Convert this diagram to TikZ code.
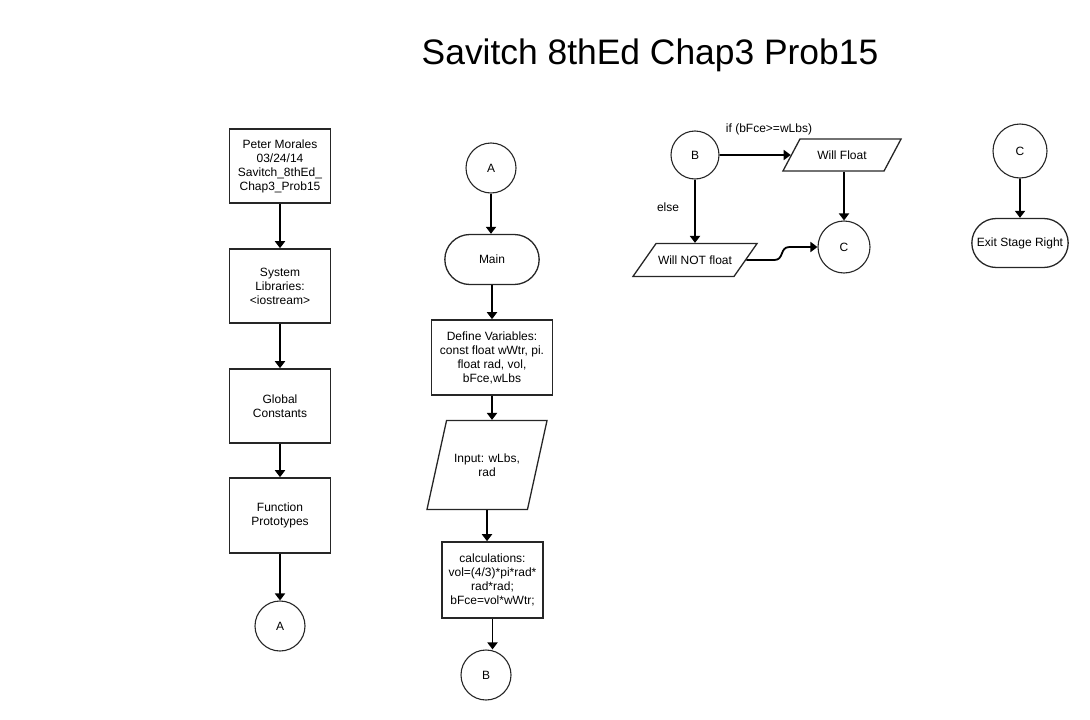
\documentclass[tikz,border=0pt]{standalone}
\usepackage{fontspec}
\setmainfont{Liberation Sans}
\usepackage{tikz}
\usetikzlibrary{shapes.geometric, shapes.misc, arrows.meta, calc}

\begin{document}
\begin{tikzpicture}[
    x=1pt, y=-1pt,
    every node/.style={font=\fontsize{12}{14}\selectfont, align=center},
    proc/.style={draw=black!85, rectangle, line width=1.6pt, minimum width=101pt, minimum height=74pt},
    term/.style={draw=black!85, rounded rectangle, line width=1.3pt, minimum width=101pt, minimum height=50pt},
    conn/.style={draw=black!85, circle, line width=1.1pt, minimum size=50pt, inner sep=0pt},
    io/.style={draw=black!85, trapezium, trapezium stretches body=true, line width=1.3pt, inner xsep=1pt},
    >={Triangle[width=10pt,length=7pt]},
    flow/.style={->, line width=1.8pt}
  ]
  \useasboundingbox (0,0) rectangle (1090,720);

  % Title
  \node[font=\fontsize{35.4}{40}\selectfont] (title) at (650,55) {Savitch 8thEd Chap3 Prob15};

  % Left column
  \node[proc] (head) at (280,166) {Peter Morales\\03/24/14\\Savitch\_8thEd\_\\Chap3\_Prob15};
  \node[proc] (libs) at (280,286) {System\\Libraries:\\<iostream>};
  \node[proc] (consts) at (280,406) {Global\\Constants};
  \node[proc, minimum height=75pt] (protos) at (280,515.5) {Function\\Prototypes};
  \node[conn] (conA) at (280,626) {A};

  % Middle column
  \node[conn] (conA2) at (491,168) {A};
  \node[term] (main) at (492,259.5) {Main};
  \node[proc, minimum width=121pt, minimum height=75pt] (vars) at (492,357.5) {Define Variables:\\const float wWtr, pi.\\float rad, vol,\\bFce,wLbs};
  \node[io, trapezium left angle=77.6, trapezium right angle=102.4, minimum width=120pt, inner ysep=33pt] (input) at (487,465) {Input: wLbs,\\rad};
  \node[proc, minimum height=76pt] (calc) at (492.5,580) {calculations:\\vol=(4/3)*pi*rad*\\rad*rad;\\bFce=vol*wWtr;};
  \node[conn] (conB) at (486,675) {B};

  % Decision part
  \node[conn, minimum size=48pt] (conB2) at (695,155) {B};
  \node[io, trapezium left angle=62, trapezium right angle=118, minimum width=118pt, inner ysep=11.5pt] (wfloat) at (842,155) {Will Float};
  \node[io, trapezium left angle=55, trapezium right angle=125, minimum width=124pt, inner ysep=12pt] (wnot) at (695,260) {Will NOT float};
  \node[conn, minimum size=52pt] (conC) at (844,247) {C};
  \node (iflbl) at (769,129) {if (bFce>=wLbs)};
  \node (elselbl) at (668,207) {else};

  % Exit
  \node[conn, minimum size=54pt] (conC2) at (1020,151) {C};
  \node[term, minimum width=103pt, minimum height=49pt] (exit) at (1020,243) {Exit Stage Right};

  % Connections
  \draw[flow] (head) -- (libs);
  \draw[flow] (libs) -- (consts);
  \draw[flow] (consts) -- (protos);
  \draw[flow] (protos) -- (conA);
  \draw[flow] (conA2) -- (conA2 |- main.north);
  \draw[flow] (main.south -| vars) -- (vars);
  \draw[flow] (vars.south) -- (vars.south |- input.north);
  \draw[flow] (input.south) -- (input.south |- calc.north);
  \draw[flow] (calc.south) -- (calc.south |- conB.north);
  \draw[flow] (conB2) -- (wfloat);
  \draw[flow] (conB2) -- (wnot);
  \draw[flow] (wfloat.south -| conC) -- (conC);
  \draw[flow] (wnot.east) -- ++(28,0) .. controls +(10,0) and +(-10,0) .. ($(conC.west)+(-28,0)$) -- (conC.west);
  \draw[flow] (conC2) -- (exit);
\end{tikzpicture}
\end{document}
